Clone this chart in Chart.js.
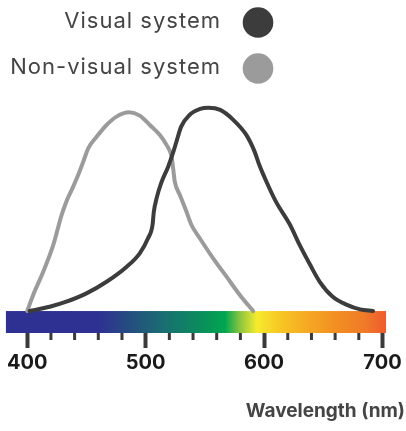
<!DOCTYPE html>
<html><head><meta charset="utf-8">
<script src="https://cdn.jsdelivr.net/npm/chart.js@4.4.1/dist/chart.umd.min.js"></script>
<style>html,body{margin:0;padding:0;background:#fff}#wrap{width:406px;height:431px}</style>
</head><body><div id="wrap"><canvas id="c" width="406" height="431"></canvas></div>
<script>
// ---- data ----
const seriesLabels = ['Visual system', 'Non-visual system'];
const visualNm = [402, 419, 433, 450, 467, 484, 495, 502, 505.8, 506.9, 509.2, 513, 519, 523, 526, 530, 537, 546, 553, 563, 574, 585, 592, 596, 602, 610, 622, 630, 639, 647, 658, 670, 681, 692];
const visualValues = [0, 0.021, 0.046, 0.087, 0.144, 0.218, 0.284, 0.358, 0.423, 0.488, 0.554, 0.628, 0.710, 0.776, 0.833, 0.907, 0.964, 0.994, 1.0, 0.989, 0.940, 0.866, 0.784, 0.718, 0.636, 0.538, 0.423, 0.325, 0.226, 0.144, 0.070, 0.030, 0.008, 0];
const nonVisualNm = [400, 405, 413.5, 422, 429, 433, 437.5, 443, 447.3, 451.5, 458.6, 467, 475.4, 486, 495, 503.5, 512, 517.6, 521.9, 523.2, 524.6, 528.9, 534.5, 538.7, 545.7, 557, 568.3, 579.5, 590.8];
const nonVisualValues = [0, 0.079, 0.193, 0.325, 0.472, 0.538, 0.595, 0.669, 0.734, 0.800, 0.857, 0.915, 0.956, 0.977, 0.961, 0.915, 0.866, 0.817, 0.759, 0.702, 0.636, 0.571, 0.488, 0.423, 0.358, 0.259, 0.169, 0.079, 0];
const majorTickStep = 100;
const minorTicks = [420, 440, 460, 480, 520, 540, 560, 580, 620, 640, 660, 680];
const spectrumRange = [382, 703];
const spectrumStopsNm = [382, 461, 489, 516, 546, 567, 580, 594, 613, 639, 664, 685, 703];
const spectrumColors = ['#2e3192', '#2e3192', '#24507f', '#196f71', '#0b8d5c', '#00a651', '#8dc63f', '#f6eb2e', '#f7c723', '#f5a623', '#f28c22', '#f07a28', '#ef5a2e'];

const toPts = (xs, ys) => xs.map((x, i) => ({x, y: ys[i]}));
const lineColors = ['#3c3c3c', '#9b9b9b'];

const spectrumBar = {
  id: 'spectrumBar',
  beforeDatasetsDraw(chart) {
    const {ctx, scales: {x, y}, chartArea} = chart;
    const x0 = x.getPixelForValue(spectrumRange[0]);
    const x1 = x.getPixelForValue(spectrumRange[1]);
    const yTop = y.getPixelForValue(0);
    const g = ctx.createLinearGradient(x0, 0, x1, 0);
    spectrumStopsNm.forEach((nm, i) => g.addColorStop((nm - spectrumRange[0]) / (spectrumRange[1] - spectrumRange[0]), spectrumColors[i]));
    ctx.save();
    ctx.fillStyle = g;
    ctx.fillRect(x0, yTop, x1 - x0, chartArea.bottom - yTop);
    ctx.restore();
  },
  afterDraw(chart) {
    const {ctx, scales: {x}, chartArea} = chart;
    ctx.save();
    ctx.fillStyle = '#3a3a3a';
    minorTicks.forEach(v => {
      const px = x.getPixelForValue(v);
      ctx.fillRect(px - 1.5, chartArea.bottom, 3, 7);
    });
    ctx.restore();
  }
};

const customLegend = {
  id: 'customLegend',
  afterDraw(chart) {
    const {ctx} = chart;
    ctx.save();
    ctx.font = '22px Inter';
    ctx.letterSpacing = '1px';
    ctx.textAlign = 'right';
    ctx.textBaseline = 'middle';
    const rows = [21.5, 67.5];
    chart.data.datasets.forEach((ds, i) => {
      ctx.fillStyle = '#444444';
      ctx.fillText(ds.label, 221, rows[i]);
      ctx.beginPath();
      ctx.arc(258, rows[i] + 1, 15.3, 0, Math.PI * 2);
      ctx.fillStyle = ds.borderColor;
      ctx.fill();
    });
    ctx.restore();
  }
};

new Chart(document.getElementById('c'), {
  type: 'line',
  data: {
    datasets: [
      {label: seriesLabels[0], data: toPts(visualNm, visualValues), borderColor: lineColors[0], backgroundColor: lineColors[0], borderWidth: 4, pointRadius: 0, cubicInterpolationMode: 'monotone', borderCapStyle: 'round', borderJoinStyle: 'round', fill: false},
      {label: seriesLabels[1], data: toPts(nonVisualNm, nonVisualValues), borderColor: lineColors[1], backgroundColor: lineColors[1], borderWidth: 4, pointRadius: 0, cubicInterpolationMode: 'monotone', borderCapStyle: 'round', borderJoinStyle: 'round', fill: false}
    ]
  },
  options: {
    responsive: false,
    animation: false,
    devicePixelRatio: 1,
    layout: {padding: {top: 90, left: 0, right: 1, bottom: 0}},
    plugins: {legend: {display: false}, tooltip: {enabled: false}},
    scales: {
      x: {
        type: 'linear', min: 377, max: 719,
        afterFit(s) { s.height = 98; },
        border: {display: false},
        grid: {display: true, drawOnChartArea: false, drawTicks: true, tickLength: 15, tickWidth: 4, tickColor: '#3a3a3a'},
        ticks: {stepSize: majorTickStep, includeBounds: false, padding: 3, color: '#1a1a1a', maxRotation: 0, autoSkip: false, font: {family: 'Inter', size: 20, weight: 'bold'}},
        title: {display: true, text: 'Wavelength (nm)', align: 'end', color: '#444444', font: {family: 'Inter', size: 19, weight: 'bold'}, padding: {top: 8, bottom: 8}}
      },
      y: {display: false, min: -0.108, max: 1.087}
    }
  },
  plugins: [spectrumBar, customLegend]
});
</script>
</body></html>
